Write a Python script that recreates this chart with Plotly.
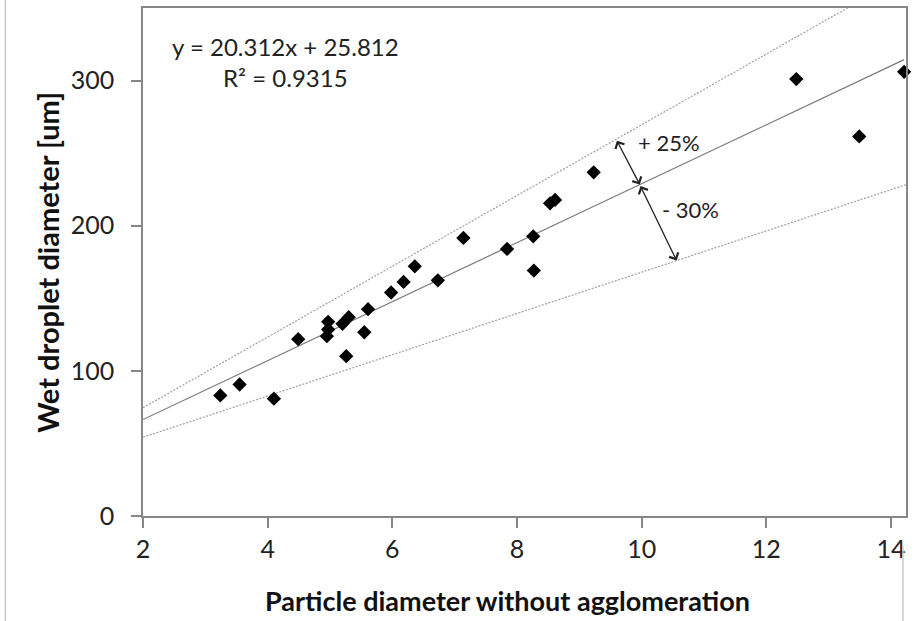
import plotly.graph_objects as go

# ---- data ----
particle_diameter = [3.24, 3.55, 4.10, 4.49, 4.97, 4.97, 4.95, 5.20, 5.30, 5.26,
                     5.61, 5.55, 5.98, 6.18, 6.36, 6.73, 7.14, 7.84, 8.26, 8.27,
                     8.53, 8.61, 9.23, 12.48, 13.49, 14.21]
wet_droplet = [83.1, 90.6, 80.8, 121.8, 133.8, 128.5, 123.9, 132.4, 137.0, 110.1,
               142.5, 126.6, 154.0, 161.3, 172.0, 162.4, 191.6, 184.0, 192.7, 169.1,
               215.4, 217.8, 236.8, 301.0, 261.5, 306.0]

trend_slope = 20.312
trend_intercept = 25.812
upper_factor = 1.2
lower_factor = 0.7
line_x = [2.0, 14.24]

x_ticks = [2, 4, 6, 8, 10, 12, 14]
y_ticks = [0, 100, 200, 300]

equation_text = "y = 20.312x + 25.812<br>R² = 0.9315"
plus_label = "+ 25%"
minus_label = "- 30%"
arrow_upper_x = [9.59, 9.97]   # from upper line to trend line
arrow_lower_x = [9.97, 10.56]  # from trend line to lower line


def trend(x, f=1.0):
    return f * trend_slope * x + trend_intercept


FONT = "Lato"
fig = go.Figure()

fig.add_trace(go.Scatter(x=line_x, y=[trend(v, upper_factor) for v in line_x], mode="lines",
                         line=dict(color="#a0a0a0", width=1.2, dash="2px,1.5px"),
                         showlegend=False, hoverinfo="skip"))
fig.add_trace(go.Scatter(x=line_x, y=[trend(v, lower_factor) for v in line_x], mode="lines",
                         line=dict(color="#a0a0a0", width=1.2, dash="2px,1.5px"),
                         showlegend=False, hoverinfo="skip"))
fig.add_trace(go.Scatter(x=[line_x[0], 14.21], y=[trend(line_x[0]), trend(14.21)], mode="lines",
                         line=dict(color="#7a7a7a", width=1.2),
                         showlegend=False, hoverinfo="skip"))
fig.add_trace(go.Scatter(x=particle_diameter, y=wet_droplet, mode="markers",
                         marker=dict(symbol="diamond", size=11, color="black"),
                         cliponaxis=False, showlegend=False))

arrow_common = dict(xref="x", yref="y", axref="x", ayref="y", showarrow=True,
                    arrowhead=4, startarrowhead=4, arrowside="end+start",
                    arrowsize=1.5, startarrowsize=1.5, arrowwidth=1.3, arrowcolor="#222222", text="")
fig.add_annotation(x=arrow_upper_x[1], y=trend(arrow_upper_x[1]),
                   ax=arrow_upper_x[0], ay=trend(arrow_upper_x[0], upper_factor), **arrow_common)
fig.add_annotation(x=arrow_lower_x[1], y=trend(arrow_lower_x[1], lower_factor),
                   ax=arrow_lower_x[0], ay=trend(arrow_lower_x[0]), **arrow_common)

fig.add_annotation(x=10.43, y=257, xref="x", yref="y", text=plus_label, showarrow=False,
                   font=dict(family=FONT, size=22, color="#222222"))
fig.add_annotation(x=10.78, y=211, xref="x", yref="y", text=minus_label, showarrow=False,
                   font=dict(family=FONT, size=22, color="#222222"))
fig.add_annotation(x=4.28, y=313, xref="x", yref="y", text=equation_text, showarrow=False,
                   align="center", font=dict(family=FONT, size=24, color="#222222"))

# axis titles
fig.add_annotation(x=-0.126, y=0.5, xref="paper", yref="paper", textangle=-90,
                   xanchor="center", yanchor="middle",
                   text="<b>Wet droplet diameter [um]</b>", showarrow=False,
                   font=dict(family=FONT, size=29, color="#111111"))
fig.add_annotation(x=0.478, y=-0.166, xref="paper", yref="paper",
                   xanchor="center", yanchor="middle",
                   text="<b>Particle diameter without agglomeration</b>", showarrow=False,
                   font=dict(family=FONT, size=27, color="#111111"))

# thin outer frame remnants
fig.add_shape(type="line", xref="paper", yref="paper", x0=-0.1804, x1=-0.1804, y0=-0.21, y1=1.03,
              line=dict(color="#c8c8c8", width=1.5))
fig.add_shape(type="line", xref="paper", yref="paper", x0=0.996, x1=0.996, y0=-0.21, y1=-0.06,
              line=dict(color="#c8c8c8", width=1.5))

axis_common = dict(showgrid=False, zeroline=False, showline=True, linecolor="#868686",
                   linewidth=1.5, mirror=True, ticks="outside", ticklen=10, tickwidth=1.5,
                   tickcolor="#868686", tickfont=dict(family=FONT, size=25, color="#222222"))
fig.update_xaxes(range=[2, 14.24], tickvals=x_ticks, ticklabelstandoff=0, **axis_common)
fig.update_yaxes(range=[0, 350], tickvals=y_ticks, ticklabelstandoff=12, **axis_common)

fig.update_layout(width=914, height=621, margin=dict(l=143, r=6, t=7, b=105),
                  plot_bgcolor="white", paper_bgcolor="white")

fig.write_html("out.html", config={"displayModeBar": False},
               post_script="document.body.style.margin='0';document.body.style.overflow='hidden';")
